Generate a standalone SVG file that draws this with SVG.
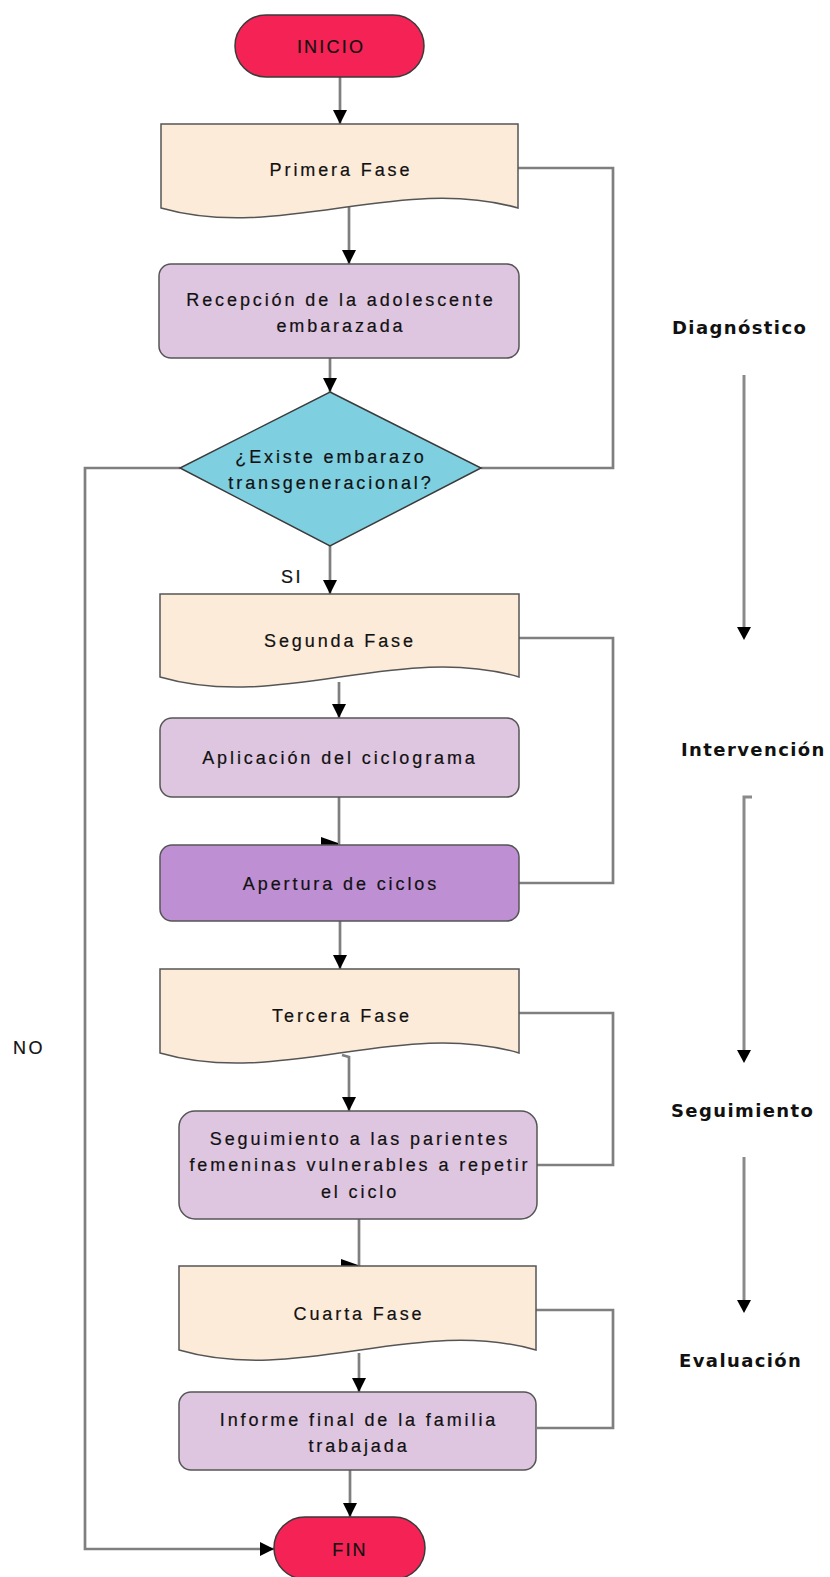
<svg xmlns="http://www.w3.org/2000/svg" width="830" height="1577" viewBox="0 0 830 1577">
<defs>
<style>
.term{fill:#F52355;stroke:#3a3a3a;stroke-width:1.5}
.doc{fill:#FDEBD9;stroke:#555;stroke-width:1.5}
.proc{fill:#DEC5E0;stroke:#555;stroke-width:1.5}
.proc2{fill:#BF8FD4;stroke:#555;stroke-width:1.5}
.dec{fill:#7ECFE0;stroke:#3a3a3a;stroke-width:1.5}
.t{font-family:"Liberation Sans",Arial,sans-serif;font-size:18px;letter-spacing:2.9px;fill:#111;stroke:#111;stroke-width:0.2;text-anchor:middle}
.lab{font-family:"Liberation Sans",Arial,sans-serif;font-size:18px;letter-spacing:2.6px;fill:#111;stroke:#111;stroke-width:0.2}
.side{font-family:"DejaVu Sans",Verdana,sans-serif;font-weight:bold;font-size:18px;letter-spacing:1.4px;fill:#111}
.c{fill:none;stroke:#7f7f7f;stroke-width:2.7}
.s{fill:none;stroke:#8a8a8a;stroke-width:3}
</style>
<marker id="ah" markerUnits="userSpaceOnUse" markerWidth="15" markerHeight="15" refX="14" refY="7" orient="auto">
<path d="M0,0 L14,7 L0,14 z" fill="#000"/>
</marker>
</defs>

<g id="connectors">
<path class="c" d="M340,77 V124" marker-end="url(#ah)"/>
<path class="c" d="M349,207 V264" marker-end="url(#ah)"/>
<path class="c" d="M330,358 V392" marker-end="url(#ah)"/>
<path class="c" d="M330,546 V594" marker-end="url(#ah)"/>
<path class="c" d="M518,168 H613 V468 H481"/>
<path class="c" d="M180,468 H85 V1549 H274" marker-end="url(#ah)"/>
<path class="c" d="M519,638 H613 V883 H519"/>
<path class="c" d="M339,682 V718" marker-end="url(#ah)"/>
<path class="c" d="M339,797 V845"/>
<polygon points="321,837 338,843 338,845 321,845" fill="#000"/>
<path class="c" d="M340,921 V969" marker-end="url(#ah)"/>
<path class="c" d="M519,1013 H613 V1165 H537"/>
<path class="c" d="M342,1055 L349,1057 V1111" marker-end="url(#ah)"/>
<path class="c" d="M359,1219 V1266"/>
<polygon points="341,1259 358,1265 358,1267 341,1267" fill="#000"/>
<path class="c" d="M536,1310 H613 V1428 H537"/>
<path class="c" d="M359,1353 V1392" marker-end="url(#ah)"/>
<path class="c" d="M350,1470 V1517" marker-end="url(#ah)"/>
<text class="lab" x="281" y="583">SI</text>
<text class="lab" x="13" y="1054">NO</text>
</g>

<g id="inicio">
<rect class="term" x="235" y="15" width="189" height="62" rx="31" ry="31"/>
<text class="t" x="331" y="53" style="letter-spacing:2.2px">INICIO</text>
</g>

<g id="primera-fase">
<path class="doc" d="M161,124 H518 V208 C399,174 280,242 161,208 Z"/>
<text class="t" x="341" y="176">Primera Fase</text>
</g>

<g id="recepcion">
<rect class="proc" x="159" y="264" width="360" height="94" rx="12" ry="12"/>
<text class="t" x="341" y="306">Recepción de la adolescente</text>
<text class="t" x="341" y="332">embarazada</text>
</g>

<g id="decision">
<polygon class="dec" points="330,392 481,468 330,546 180,468"/>
<text class="t" x="331" y="463">¿Existe embarazo</text>
<text class="t" x="331" y="489">transgeneracional?</text>
</g>

<g id="segunda-fase">
<path class="doc" d="M160,594 H519 V677 C399,642 280,712 160,677 Z"/>
<text class="t" x="340" y="647">Segunda Fase</text>
</g>

<g id="aplicacion">
<rect class="proc" x="160" y="718" width="359" height="79" rx="12" ry="12"/>
<text class="t" x="340" y="764">Aplicación del ciclograma</text>
</g>

<g id="apertura">
<rect class="proc2" x="160" y="845" width="359" height="76" rx="12" ry="12"/>
<text class="t" x="341" y="890">Apertura de ciclos</text>
</g>

<g id="tercera-fase">
<path class="doc" d="M160,969 H519 V1053 C399,1018 280,1088 160,1053 Z"/>
<text class="t" x="342" y="1022">Tercera Fase</text>
</g>

<g id="seguimiento-box">
<rect class="proc" x="179" y="1111" width="358" height="108" rx="16" ry="16"/>
<text class="t" x="360" y="1145">Seguimiento a las parientes</text>
<text class="t" x="360" y="1171">femeninas vulnerables a repetir</text>
<text class="t" x="360" y="1198">el ciclo</text>
</g>

<g id="cuarta-fase">
<path class="doc" d="M179,1266 H536 V1350 C417,1316 298,1385 179,1350 Z"/>
<text class="t" x="359" y="1320">Cuarta Fase</text>
</g>

<g id="informe">
<rect class="proc" x="179" y="1392" width="357" height="78" rx="12" ry="12"/>
<text class="t" x="359" y="1426">Informe final de la familia</text>
<text class="t" x="359" y="1452">trabajada</text>
</g>

<g id="fin">
<rect class="term" x="274" y="1517" width="151" height="62" rx="31" ry="31"/>
<text class="t" x="350" y="1556" style="letter-spacing:2.2px">FIN</text>
</g>

<g id="etapas">
<text class="side" x="672" y="334">Diagnóstico</text>
<path class="s" d="M744,375 V628"/>
<path d="M737,627 L751,627 L744,640 z" fill="#000"/>
<text class="side" x="681" y="756">Intervención</text>
<path class="s" d="M752,797 H744 V1051"/>
<path d="M737,1050 L751,1050 L744,1063 z" fill="#000"/>
<text class="side" x="671" y="1117">Seguimiento</text>
<path class="s" d="M744,1157 V1301"/>
<path d="M737,1300 L751,1300 L744,1313 z" fill="#000"/>
<text class="side" x="679" y="1367">Evaluación</text>
</g>
</svg>
